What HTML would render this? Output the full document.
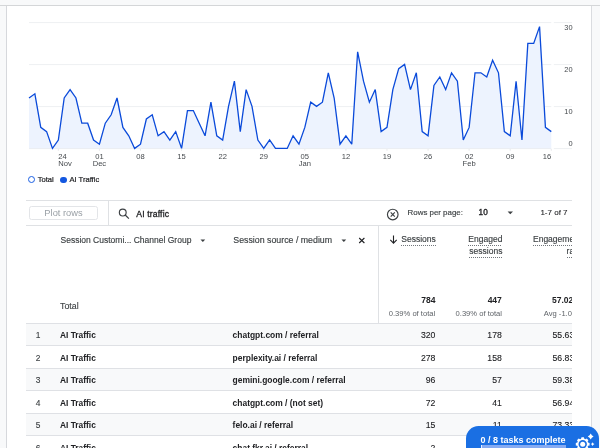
<!DOCTYPE html>
<html><head><meta charset="utf-8"><style>
*{margin:0;padding:0;box-sizing:border-box}
html,body{width:600px;height:448px;overflow:hidden;background:#f8f9fa;font-family:"Liberation Sans",Arial,sans-serif;color:#202124}
.abs{position:absolute;white-space:nowrap}
.med{-webkit-text-stroke:0.2px currentColor}
#topline{position:absolute;left:0;top:5px;width:600px;height:1px;background:#d4d6d8}
#card{position:absolute;left:6px;top:6px;width:586px;height:442px;background:#fff;border-left:1px solid #d6d8dc;border-right:1px solid #dadce0}
.chart{position:absolute;left:0;top:0}
.legend{position:absolute;top:175.3px;font-size:7.6px;color:#202124;white-space:nowrap;line-height:10px;-webkit-text-stroke:0.2px #202124}
.hl{position:absolute;height:1px;background:#dfe1e4}
.vl{position:absolute;width:1px;background:#dfe1e4}
#tbl{position:absolute;left:0;top:0;width:572px;height:448px;overflow:hidden}
.row{position:absolute;left:26px;width:560px;height:22.5px;border-top:1px solid #dfe1e5}
.row span{position:absolute;top:6.4px;font-size:8.4px;line-height:10px;white-space:nowrap}
.rn{left:9.8px;color:#3c4043;-webkit-text-stroke:0.12px #3c4043}
.rc{left:34px;font-weight:bold;color:#202124}
.rs{left:206.6px;font-weight:bold;color:#202124;font-size:8.45px!important}
.row .num{top:6.6px;text-align:right;color:#202124;font-size:8.7px;-webkit-text-stroke:0.1px #202124}
.n1{right:150.6px}
.n2{right:84.2px}
.n3{right:4px}
.hdr{font-size:8.5px;color:#3c4043;-webkit-text-stroke:0.15px #3c4043}
.dot{background-image:linear-gradient(to right,#70757a 55%,transparent 55%);background-size:2px 1px;background-repeat:repeat-x;background-position:0 100%;padding-bottom:1.6px}
</style></head><body>
<div id="wrap" style="position:absolute;left:0;top:0;width:600px;height:448px;overflow:hidden;will-change:transform">
<div id="topline"></div>
<div id="card"></div>
<svg class="chart" width="600" height="200" viewBox="0 0 600 200">
<line x1="29" y1="22.6" x2="551.3" y2="22.6" stroke="#eef0f2" stroke-width="1"/><line x1="553.8" y1="22.6" x2="572" y2="22.6" stroke="#eef0f2" stroke-width="1"/><line x1="29" y1="64.6" x2="551.3" y2="64.6" stroke="#eef0f2" stroke-width="1"/><line x1="553.8" y1="64.6" x2="572" y2="64.6" stroke="#eef0f2" stroke-width="1"/><line x1="29" y1="106.6" x2="551.3" y2="106.6" stroke="#eef0f2" stroke-width="1"/><line x1="553.8" y1="106.6" x2="572" y2="106.6" stroke="#eef0f2" stroke-width="1"/><line x1="553.8" y1="148.6" x2="572" y2="148.6" stroke="#eef0f2" stroke-width="1"/>
<path d="M29.00,98.00 L34.87,93.80 L40.74,127.40 L46.61,131.60 L52.47,148.40 L58.34,140.00 L64.21,98.00 L70.08,89.60 L75.95,98.00 L81.82,123.20 L87.69,123.20 L93.55,140.00 L99.42,144.20 L105.29,123.20 L111.16,114.80 L117.03,98.00 L122.90,127.40 L128.77,135.80 L134.63,148.40 L140.50,144.20 L146.37,119.00 L152.24,114.80 L158.11,135.80 L163.98,131.60 L169.84,140.00 L175.71,131.60 L181.58,148.40 L187.45,110.60 L193.32,110.60 L199.19,123.20 L205.06,135.80 L210.92,102.20 L216.79,135.80 L222.66,140.00 L228.53,106.40 L234.40,81.20 L240.27,131.60 L246.14,89.60 L252.00,106.40 L257.87,140.00 L263.74,148.40 L269.61,140.00 L275.48,148.40 L281.35,148.40 L287.22,148.40 L293.08,135.80 L298.95,144.20 L304.82,127.40 L310.69,102.20 L316.56,106.40 L322.43,102.20 L328.30,72.80 L334.16,98.00 L340.03,144.20 L345.90,135.80 L351.77,144.20 L357.64,51.80 L363.51,81.20 L369.38,102.20 L375.24,89.60 L381.11,131.60 L386.98,127.40 L392.85,89.60 L398.72,68.60 L404.59,64.40 L410.46,89.60 L416.32,72.80 L422.19,131.60 L428.06,135.80 L433.93,85.40 L439.80,77.00 L445.67,89.60 L451.53,72.80 L457.40,81.20 L463.27,140.00 L469.14,127.40 L475.01,72.80 L480.88,72.80 L486.75,77.00 L492.61,60.20 L498.48,72.80 L504.35,131.60 L510.22,135.80 L516.09,81.20 L521.96,140.00 L527.83,43.40 L533.69,43.40 L539.56,26.60 L545.43,127.40 L551.30,131.60 L551.30,148.4 L29.00,148.4 Z" fill="#edf3fe" stroke="none"/>
<line x1="29" y1="148.6" x2="551.3" y2="148.6" stroke="#e6e9ee" stroke-width="0.8"/>
<line x1="58.34" y1="149" x2="58.34" y2="150.8" stroke="#e3e5e8" stroke-width="0.8"/><line x1="99.42" y1="149" x2="99.42" y2="150.8" stroke="#e3e5e8" stroke-width="0.8"/><line x1="140.50" y1="149" x2="140.50" y2="150.8" stroke="#e3e5e8" stroke-width="0.8"/><line x1="181.58" y1="149" x2="181.58" y2="150.8" stroke="#e3e5e8" stroke-width="0.8"/><line x1="222.66" y1="149" x2="222.66" y2="150.8" stroke="#e3e5e8" stroke-width="0.8"/><line x1="263.74" y1="149" x2="263.74" y2="150.8" stroke="#e3e5e8" stroke-width="0.8"/><line x1="304.82" y1="149" x2="304.82" y2="150.8" stroke="#e3e5e8" stroke-width="0.8"/><line x1="345.90" y1="149" x2="345.90" y2="150.8" stroke="#e3e5e8" stroke-width="0.8"/><line x1="386.98" y1="149" x2="386.98" y2="150.8" stroke="#e3e5e8" stroke-width="0.8"/><line x1="428.06" y1="149" x2="428.06" y2="150.8" stroke="#e3e5e8" stroke-width="0.8"/><line x1="469.14" y1="149" x2="469.14" y2="150.8" stroke="#e3e5e8" stroke-width="0.8"/><line x1="510.22" y1="149" x2="510.22" y2="150.8" stroke="#e3e5e8" stroke-width="0.8"/><line x1="551.30" y1="149" x2="551.30" y2="150.8" stroke="#e3e5e8" stroke-width="0.8"/>
<path d="M29.00,98.00 L34.87,93.80 L40.74,127.40 L46.61,131.60 L52.47,148.40 L58.34,140.00 L64.21,98.00 L70.08,89.60 L75.95,98.00 L81.82,123.20 L87.69,123.20 L93.55,140.00 L99.42,144.20 L105.29,123.20 L111.16,114.80 L117.03,98.00 L122.90,127.40 L128.77,135.80 L134.63,148.40 L140.50,144.20 L146.37,119.00 L152.24,114.80 L158.11,135.80 L163.98,131.60 L169.84,140.00 L175.71,131.60 L181.58,148.40 L187.45,110.60 L193.32,110.60 L199.19,123.20 L205.06,135.80 L210.92,102.20 L216.79,135.80 L222.66,140.00 L228.53,106.40 L234.40,81.20 L240.27,131.60 L246.14,89.60 L252.00,106.40 L257.87,140.00 L263.74,148.40 L269.61,140.00 L275.48,148.40 L281.35,148.40 L287.22,148.40 L293.08,135.80 L298.95,144.20 L304.82,127.40 L310.69,102.20 L316.56,106.40 L322.43,102.20 L328.30,72.80 L334.16,98.00 L340.03,144.20 L345.90,135.80 L351.77,144.20 L357.64,51.80 L363.51,81.20 L369.38,102.20 L375.24,89.60 L381.11,131.60 L386.98,127.40 L392.85,89.60 L398.72,68.60 L404.59,64.40 L410.46,89.60 L416.32,72.80 L422.19,131.60 L428.06,135.80 L433.93,85.40 L439.80,77.00 L445.67,89.60 L451.53,72.80 L457.40,81.20 L463.27,140.00 L469.14,127.40 L475.01,72.80 L480.88,72.80 L486.75,77.00 L492.61,60.20 L498.48,72.80 L504.35,131.60 L510.22,135.80 L516.09,81.20 L521.96,140.00 L527.83,43.40 L533.69,43.40 L539.56,26.60 L545.43,127.40 L551.30,131.60" fill="none" stroke="#0a4ada" stroke-width="1.3" stroke-linejoin="miter" stroke-miterlimit="3"/>
<g font-family="Liberation Sans, Arial, sans-serif" font-size="7.6" fill="#45494d"><text x="58.34" y="158.6" text-anchor="start">24</text><text x="58.34" y="166.2" text-anchor="start">Nov</text><text x="99.42" y="158.6" text-anchor="middle">01</text><text x="99.42" y="166.2" text-anchor="middle">Dec</text><text x="140.50" y="158.6" text-anchor="middle">08</text><text x="181.58" y="158.6" text-anchor="middle">15</text><text x="222.66" y="158.6" text-anchor="middle">22</text><text x="263.74" y="158.6" text-anchor="middle">29</text><text x="304.82" y="158.6" text-anchor="middle">05</text><text x="304.82" y="166.2" text-anchor="middle">Jan</text><text x="345.90" y="158.6" text-anchor="middle">12</text><text x="386.98" y="158.6" text-anchor="middle">19</text><text x="428.06" y="158.6" text-anchor="middle">26</text><text x="469.14" y="158.6" text-anchor="middle">02</text><text x="469.14" y="166.2" text-anchor="middle">Feb</text><text x="510.22" y="158.6" text-anchor="middle">09</text><text x="551.30" y="158.6" text-anchor="end">16</text></g>
<g font-family="Liberation Sans, Arial, sans-serif" font-size="7.4" fill="#45494d"><text x="572.5" y="30.0" text-anchor="end">30</text><text x="572.5" y="72.2" text-anchor="end">20</text><text x="572.5" y="113.9" text-anchor="end">10</text><text x="572.5" y="146.3" text-anchor="end">0</text></g>
</svg>
<div class="legend" style="left:27.8px"><span style="display:inline-block;width:7.2px;height:7.2px;border:1.7px solid #1a5fe3;border-radius:50%;vertical-align:-1px;margin-right:2.7px"></span>Total</div>
<div class="legend" style="left:60.2px"><span style="display:inline-block;width:6.4px;height:6.4px;background:#1357e0;border-radius:50%;vertical-align:-1px;margin-right:2.8px"></span>AI Traffic</div>
<div id="tbl">
<div class="hl" style="left:26px;top:200px;width:560px"></div>
<div class="hl" style="left:26px;top:224.5px;width:560px"></div>
<div class="vl" style="left:108px;top:200px;height:25px"></div>
<div class="abs" style="left:29.2px;top:206.2px;width:68.6px;height:14.2px;border:1px solid #e3e5e8;border-radius:2.5px;font-size:9.3px;color:#9aa0a6;text-align:center;line-height:12.2px">Plot rows</div>
<svg class="abs" style="left:117px;top:207px" width="14" height="14" viewBox="0 0 14 14"><circle cx="5.75" cy="5.55" r="3.4" fill="none" stroke="#3c4043" stroke-width="1.15"/><line x1="8.2" y1="8.0" x2="11.9" y2="11.6" stroke="#3c4043" stroke-width="1.25"/></svg>
<div class="abs" style="left:136.3px;top:208.8px;font-size:8.6px;letter-spacing:0.15px;color:#202124;-webkit-text-stroke:0.3px #202124">AI traffic</div>
<svg class="abs" style="left:386px;top:207.5px" width="14" height="14" viewBox="0 0 14 14"><circle cx="6.75" cy="6.5" r="5.3" fill="none" stroke="#3c4043" stroke-width="1.15"/><path d="M4.7 4.45 L8.8 8.55 M8.8 4.45 L4.7 8.55" stroke="#3c4043" stroke-width="1.15"/></svg>
<div class="abs hdr" style="left:407.6px;top:207.8px;font-size:7.9px">Rows per page:</div>
<div class="abs" style="left:478.6px;top:208.3px;font-size:8.2px;color:#202124;-webkit-text-stroke:0.35px #202124">10</div>
<svg class="abs" style="left:507px;top:211px" width="7" height="4" viewBox="0 0 7 4"><path d="M0.6 0.6 L6 0.6 L3.3 3.3 Z" fill="#3c4043"/></svg>
<div class="abs" style="left:540.4px;top:207.8px;font-size:8px;color:#202124;-webkit-text-stroke:0.1px #202124">1-7 of 7</div>
<div class="vl" style="left:378px;top:225px;height:223px"></div>
<div class="abs hdr" style="left:60.5px;top:235.4px">Session Customi... Channel Group</div>
<svg class="abs" style="left:199.5px;top:239px" width="6" height="4" viewBox="0 0 6 4"><path d="M0.5 0.5 L5.2 0.5 L2.85 2.9 Z" fill="#3c4043"/></svg>
<div class="abs hdr" style="left:233.3px;top:235.4px;font-size:8.8px">Session source / medium</div>
<svg class="abs" style="left:340.5px;top:239px" width="6" height="4" viewBox="0 0 6 4"><path d="M0.5 0.5 L5.2 0.5 L2.85 2.9 Z" fill="#3c4043"/></svg>
<svg class="abs" style="left:358px;top:237px" width="8" height="7" viewBox="0 0 8 7"><path d="M1.2 1 L6.4 6 M6.4 1 L1.2 6" stroke="#202124" stroke-width="1.1"/></svg>
<svg class="abs" style="left:389px;top:234.5px" width="9" height="9" viewBox="0 0 9 9"><path d="M4.5 0.6 L4.5 8 M1.3 4.9 L4.5 8.1 L7.7 4.9" fill="none" stroke="#202124" stroke-width="1.1"/></svg>
<div class="abs hdr" style="left:401.3px;top:234.4px;line-height:10px"><span class="dot">Sessions</span></div>
<div class="abs hdr" style="right:69.6px;top:234.2px;text-align:right;line-height:11.8px"><span class="dot">Engaged</span><br><span class="dot">sessions</span></div>
<div class="abs hdr" style="left:533px;top:234.2px;text-align:right;line-height:11.8px"><span class="dot">Engagement</span><br><span class="dot">rate</span></div>
<div class="abs" style="left:60px;top:301.2px;font-size:8.8px;color:#3c4043;-webkit-text-stroke:0.1px #3c4043">Total</div>
<div class="abs" style="right:136.6px;top:295.0px;font-size:8.5px;font-weight:bold;color:#202124;text-align:right">784</div>
<div class="abs" style="right:136.8px;top:308.7px;font-size:7.6px;color:#5f6368;text-align:right">0.39% of total</div>
<div class="abs" style="right:70.2px;top:295.0px;font-size:8.5px;font-weight:bold;color:#202124;text-align:right">447</div>
<div class="abs" style="right:70px;top:308.7px;font-size:7.6px;color:#5f6368;text-align:right">0.39% of total</div>
<div class="abs" style="left:552px;top:295.0px;font-size:8.5px;font-weight:bold;color:#202124">57.02%</div>
<div class="abs" style="left:543.8px;top:308.7px;font-size:7.6px;color:#5f6368">Avg -1.02%</div>
<div class="row" style="top:322.80px;background:#f8f9fa"><span class="rn">1</span><span class="rc">AI Traffic</span><span class="rs">chatgpt.com / referral</span><span class="num n1">320</span><span class="num n2">178</span><span class="num n3">55.63%</span></div>
<div class="row" style="top:345.30px;background:#ffffff"><span class="rn">2</span><span class="rc">AI Traffic</span><span class="rs">perplexity.ai / referral</span><span class="num n1">278</span><span class="num n2">158</span><span class="num n3">56.83%</span></div>
<div class="row" style="top:367.80px;background:#f8f9fa"><span class="rn">3</span><span class="rc">AI Traffic</span><span class="rs">gemini.google.com / referral</span><span class="num n1">96</span><span class="num n2">57</span><span class="num n3">59.38%</span></div>
<div class="row" style="top:390.30px;background:#ffffff"><span class="rn">4</span><span class="rc">AI Traffic</span><span class="rs">chatgpt.com / (not set)</span><span class="num n1">72</span><span class="num n2">41</span><span class="num n3">56.94%</span></div>
<div class="row" style="top:412.80px;background:#f8f9fa"><span class="rn">5</span><span class="rc">AI Traffic</span><span class="rs">felo.ai / referral</span><span class="num n1">15</span><span class="num n2">11</span><span class="num n3">73.33%</span></div>
<div class="row" style="top:435.30px;background:#ffffff"><span class="rn">6</span><span class="rc">AI Traffic</span><span class="rs">chat.fkr.ai / referral</span><span class="num n1">2</span><span class="num n2">1</span><span class="num n3">50%</span></div>

</div>
<div class="abs" style="left:466.3px;top:425.7px;width:133px;height:40px;background:#1a6fe3;border-radius:12.5px"></div>
<div class="abs" style="left:480.5px;top:434.6px;font-size:9px;font-weight:bold;color:#fff">0 / 8 tasks complete</div>
<div class="abs" style="left:480.5px;top:445px;width:85.7px;height:4px;background:#86abf2;border-left:1px solid #e8f0fe"></div>
<svg class="abs" style="left:0;top:0" width="600" height="448" viewBox="0 0 600 448"><path d="M581.05,438.85 L581.52,437.30 L583.88,437.30 L584.35,438.85 L585.31,439.25 L586.74,438.48 L588.42,440.16 L587.65,441.59 L588.05,442.55 L589.60,443.02 L589.60,445.38 L588.05,445.85 L587.65,446.81 L588.42,448.24 L586.74,449.92 L585.31,449.15 L584.35,449.55 L583.88,451.10 L581.52,451.10 L581.05,449.55 L580.09,449.15 L578.66,449.92 L576.98,448.24 L577.75,446.81 L577.35,445.85 L575.80,445.38 L575.80,443.02 L577.35,442.55 L577.75,441.59 L576.98,440.16 L578.66,438.48 L580.09,439.25 Z M586.90,444.20 A4.2,4.2 0 1,0 578.50,444.20 A4.2,4.2 0 1,0 586.90,444.20 Z" fill="#fff" fill-rule="evenodd"/><circle cx="582.7" cy="444.2" r="2.5" fill="#fff"/><path d="M590.7,433.6 Q591.5120000000001,435.688 593.6,436.5 Q591.5120000000001,437.312 590.7,439.4 Q589.888,437.312 587.8000000000001,436.5 Q589.888,435.688 590.7,433.6 Z" fill="#fff"/><path d="M592.6,442.20000000000005 Q593.1320000000001,443.56800000000004 594.5,444.1 Q593.1320000000001,444.632 592.6,446.0 Q592.068,444.632 590.7,444.1 Q592.068,443.56800000000004 592.6,442.20000000000005 Z" fill="#fff"/></svg>
</div>
</body></html>
